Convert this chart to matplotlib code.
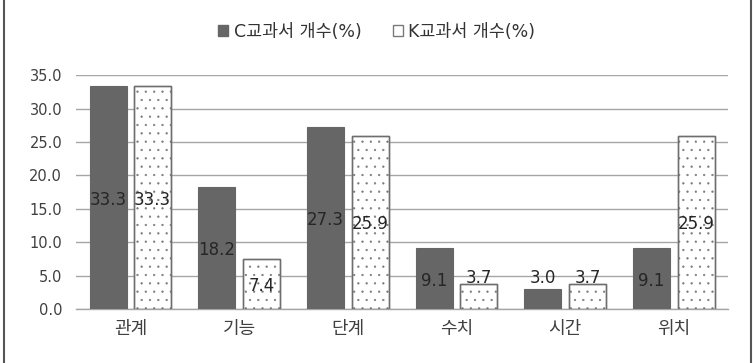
import matplotlib
matplotlib.use("Agg")
import matplotlib.pyplot as plt
import numpy as np
from matplotlib.lines import Line2D

plt.rcParams['font.family'] = ['DejaVu Sans', 'Noto Sans CJK KR']
plt.rcParams['hatch.linewidth'] = 0.4

categories = ['관계', '기능', '단계', '수치', '시간', '위치']
c_values = [33.3, 18.2, 27.3, 9.1, 3.0, 9.1]
k_values = [33.3, 7.4, 25.9, 3.7, 3.7, 25.9]
series_names = ['C교과서 개수(%)', 'K교과서 개수(%)']
yticks = [0, 5, 10, 15, 20, 25, 30, 35]

text_color = '#404040'
grid_color = '#a6a6a6'
c_color = '#666666'

fig = plt.figure(figsize=(7.53, 3.63), dpi=100)
ax = fig.add_axes([0.101, 0.149, 0.866, 0.644])

x = np.arange(len(categories))
width = 0.34
off = 0.205

ax.bar(x - off, c_values, width, color=c_color, edgecolor=c_color, linewidth=0.8, zorder=3)
plt.rcParams['hatch.color'] = '#b5b5b5'
ax.bar(x + off, k_values, width, color='white', edgecolor='#7a7a7a', hatch='..', linewidth=1.0, zorder=3)
ax.bar(x + off, k_values, width, color='none', edgecolor='#6e6e6e', linewidth=1.0, zorder=4)

def label_y(v):
    return v / 2 - 0.3 if v >= 5 else 4.6

for xi, v in zip(x - off, c_values):
    ax.text(xi, label_y(v), f'{v:.1f}', ha='center', va='center', fontsize=12, color='#262626', zorder=5)
for xi, v in zip(x + off, k_values):
    ax.text(xi, label_y(v), f'{v:.1f}', ha='center', va='center', fontsize=12, color='#262626', zorder=5)

ax.set_ylim(0, 35)
ax.set_xlim(-0.5, len(categories) - 0.5)
ax.set_yticks(yticks)
ax.set_yticklabels([f'{t:.1f}' for t in yticks], fontsize=10.5, color=text_color)
ax.set_xticks(x)
ax.set_xticklabels(categories, fontsize=13, color=text_color)
ax.tick_params(axis='both', length=0, pad=10)
ax.tick_params(axis='x', pad=8)
ax.yaxis.grid(True, color=grid_color, linewidth=1.0, zorder=0)
for s in ['top', 'right', 'left']:
    ax.spines[s].set_visible(False)
ax.spines['bottom'].set_color(grid_color)
ax.spines['bottom'].set_linewidth(1.0)

handles = [
    plt.Rectangle((0, 0), 1, 1, facecolor=c_color, edgecolor=c_color),
    plt.Rectangle((0, 0), 1, 1, facecolor='white', edgecolor='#7a7a7a'),
]
fig.legend(handles, series_names, loc='center', bbox_to_anchor=(0.5, 0.912), ncol=2,
           frameon=False, fontsize=12.5, handlelength=0.6, handleheight=0.6,
           handletextpad=0.3, columnspacing=1.8, labelcolor='#333333')

fig.add_artist(Line2D([0.005, 0.005], [0, 1], transform=fig.transFigure, color='#555555', linewidth=1.5))
fig.add_artist(Line2D([0.997, 0.997], [0, 1], transform=fig.transFigure, color='#555555', linewidth=1.5))

fig.savefig('out.png', dpi=100)
